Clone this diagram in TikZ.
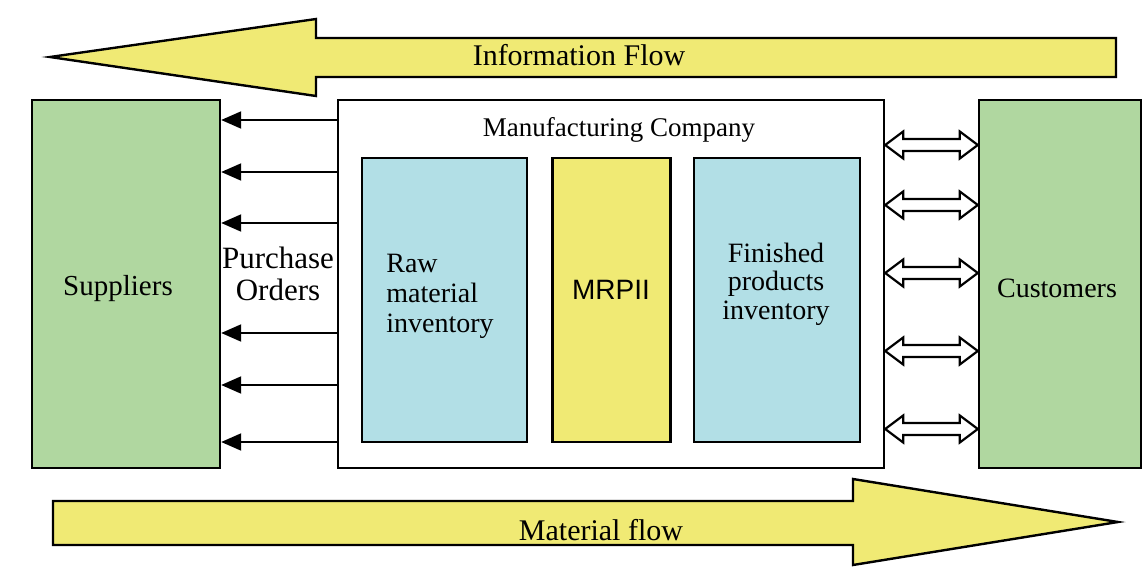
\documentclass[tikz,border=0pt]{standalone}
\usepackage{fontspec}
\setmainfont{Liberation Serif}
\newfontfamily\arialfont{Liberation Sans}
\usetikzlibrary{arrows.meta,calc}
\definecolor{flowyellow}{RGB}{240,234,116}
\definecolor{boxgreen}{RGB}{176,215,160}
\definecolor{boxblue}{RGB}{178,223,230}
\begin{document}
\begin{tikzpicture}[x=0.5pt,y=-0.5pt,
  font=\fontsize{15}{15}\selectfont,
  box/.style={draw, line width=1.2pt, inner sep=0pt, minimum height=184pt},
  inner/.style={draw, line width=1.2pt, inner sep=0pt, minimum height=142pt},
  blockarrow/.style={draw, line width=1.2pt, fill=flowyellow, line join=miter},
  poarrow/.style={line width=1pt, -{Triangle[length=10pt,width=8.5pt]}},
  dblarrow/.style={draw, line width=1.1pt, fill=white, line join=miter},
  txt/.style={inner sep=0pt, align=center}]
\useasboundingbox (0,0) rectangle (1142,567);

% information flow (top, pointing left)
\draw[blockarrow] (50,57) -- (316,19) -- (316,38) -- (1116,38) -- (1116,77)
  -- (316,77) -- (316,96) -- cycle;
\node[txt] (info) at (579,55) {Information Flow};

% material flow (bottom, pointing right)
\draw[blockarrow] (53,501) -- (853,501) -- (853,479) -- (1118,522) -- (853,565)
  -- (853,545) -- (53,545) -- cycle;
\node[txt] (mat) at (601,530) {Material flow};

% main boxes
\node[box, fill=boxgreen, minimum width=94pt] (sup) at (126,284) {};
\node[txt, font=\fontsize{14.5}{15}\selectfont] (suptxt) at (118,289) {Suppliers};
\node[box, fill=white, minimum width=273pt] (comp) at (611,284) {};
\node[txt, font=\fontsize{13.5}{14}\selectfont] (comptxt) at (619,130) {Manufacturing Company};
\node[box, fill=boxgreen, minimum width=81pt] (cust) at (1060,284) {};
\node[txt, font=\fontsize{14}{14}\selectfont] (custtxt) at (1057,288) {Customers};

% inner boxes
\node[inner, fill=boxblue, minimum width=82.5pt] (raw) at (444.5,300) {};
\node[txt, align=left, font=\fontsize{14}{15}\selectfont] (rawtxt) at (440,296) {Raw\\material\\inventory};
\node[inner, fill=flowyellow, minimum width=59pt] (mrp) at (611.5,300) {};
\node[txt] (mrptxt) at (611,290) {\arialfont\fontsize{14}{14}\selectfont MRPII};
\node[inner, fill=boxblue, minimum width=83pt] (fin) at (777,300) {};
\node[txt, font=\fontsize{14}{14.3}\selectfont] (fintxt) at (776,284) {Finished\\products\\inventory};

% purchase orders
\node[txt, font=\fontsize{15.5}{16}\selectfont] (potxt) at (278,274) {Purchase\\Orders};
\foreach \n/\y in {1/120,2/172,3/223,4/333,5/385,6/442}{
  \coordinate (l\n) at (0,\y);
  \draw[poarrow] (comp.west |- l\n) -- (sup.east |- l\n);
}

% customer exchanges
\foreach \n/\y in {1/145,2/205,3/273,4/351,5/429}{
  \coordinate (r\n) at (0,\y);
  \draw[dblarrow] (comp.east |- r\n) -- ++(18,-13.5) -- ++(0,7.5)
    -- ($(cust.west |- r\n)+(-18,-6)$) -- ++(0,-7.5) -- (cust.west |- r\n)
    -- ++(-18,13.5) -- ++(0,-7.5) -- ($(comp.east |- r\n)+(18,6)$)
    -- ++(0,7.5) -- cycle;
}
\end{tikzpicture}
\end{document}
